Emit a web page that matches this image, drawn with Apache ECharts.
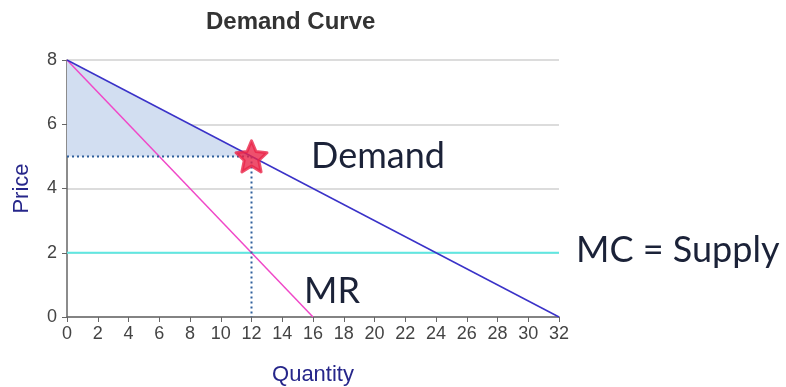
<!DOCTYPE html>
<html><head><meta charset="utf-8">
<script src="https://cdn.jsdelivr.net/npm/echarts@6/dist/echarts.min.js"></script>
<style>html,body{margin:0;padding:0;background:#fff}#c{width:786px;height:387px}</style>
</head><body><div id="c"></div>
<script>
const xTicks = [0,2,4,6,8,10,12,14,16,18,20,22,24,26,28,30,32];
const yTicks = [0,2,4,6,8];
const demandQ = [0, 32];
const demandP = [8, 0];
const mrQ = [0, 16];
const mrP = [8, 0];
const mcQ = [0, 32];
const mcP = [2, 2];
const optimumQ = 12;
const optimumP = 5;
const surplus = [[0, 8], [12, 5], [0, 5]];

const pair = (xs, ys) => xs.map((x, i) => [x, ys[i]]);
const chart = echarts.init(document.getElementById('c'));
const starPath = 'path://M50,0 L63.81,30.99 L97.55,34.55 L72.35,57.26 L79.39,90.45 L50,73.5 L20.61,90.45 L27.65,57.26 L2.45,34.55 L36.19,30.99 Z';
chart.setOption({
  animation: false,
  backgroundColor: '#fff',
  title: {text: 'Demand Curve', left: 201, top: 5,
    textStyle: {fontFamily: 'Liberation Sans, Arial', fontWeight: 'bold', fontSize: 24, color: '#333'}},
  grid: {left: 67, right: 227, top: 60, bottom: 70, containLabel: false, outerBoundsMode: 'none'},
  xAxis: {type: 'value', min: 0, max: 32, interval: 2, name: 'Quantity', nameLocation: 'middle', nameGap: 47,
    nameTextStyle: {color: '#26268a', fontSize: 22, fontFamily: 'Liberation Sans, Arial'},
    axisLine: {show: true, lineStyle: {color: '#666', width: 1.5}},
    axisTick: {show: true, length: 5, lineStyle: {color: '#666'}},
    axisLabel: {color: '#444', fontSize: 18, margin: 8, fontFamily: 'Liberation Sans, Arial',
      formatter: v => xTicks.includes(v) ? String(v) : ''},
    splitLine: {show: false}},
  yAxis: {type: 'value', min: 0, max: 8, interval: 2, name: 'Price', nameLocation: 'middle', nameGap: 34,
    nameTextStyle: {color: '#26268a', fontSize: 22, fontFamily: 'Liberation Sans, Arial'},
    axisLine: {show: true, lineStyle: {color: '#666', width: 1.5}},
    axisTick: {show: true, length: 5, lineStyle: {color: '#666'}},
    axisLabel: {color: '#444', fontSize: 18, margin: 10, fontFamily: 'Liberation Sans, Arial',
      formatter: v => yTicks.includes(v) ? String(v) : ''},
    splitLine: {show: true, lineStyle: {color: '#d0d0d0', width: 1.5}}},
  series: [
    {type: 'custom', z: 1, silent: true, data: [0],
      renderItem: (params, api) => ({type: 'polygon',
        shape: {points: surplus.map(p => api.coord(p))},
        style: {fill: '#d2def1'}})},
    {type: 'line', symbol: 'none', data: pair(mcQ, mcP), lineStyle: {color: '#5fe8e2', width: 2}, z: 2},
    {type: 'line', symbol: 'none', data: pair(mrQ, mrP), lineStyle: {color: '#f048c8', width: 1.5}, z: 3},
    {type: 'line', symbol: 'none', data: pair(demandQ, demandP), lineStyle: {color: '#3a32c8', width: 1.5}, z: 3},
    {type: 'line', symbol: 'none', data: [[0, optimumP], [optimumQ, optimumP]], lineStyle: {color: '#2f5f9c', width: 2, type: [2, 3]}, z: 4},
    {type: 'line', symbol: 'none', data: [[optimumQ, optimumP], [optimumQ, 0]], lineStyle: {color: '#2f5f9c', width: 2, type: [2, 3]}, z: 4},
    {type: 'scatter', data: [[optimumQ, optimumP]], symbol: starPath, symbolSize: 31, z: 5,
      itemStyle: {color: '#ea2449', borderColor: '#ea2449', borderWidth: 3, borderJoin: 'round'}}
  ],
  graphic: [
    {type: 'text', left: 311, top: 138, style: {text: 'Demand', font: '36px Lato', fill: '#1b2238'}},
    {type: 'text', left: 576, top: 232, style: {text: 'MC = Supply', font: '36px Lato', fill: '#1b2238'}},
    {type: 'text', left: 304, top: 273, style: {text: 'MR', font: '36px Lato', fill: '#1b2238'}}
  ]
});
</script></body></html>
